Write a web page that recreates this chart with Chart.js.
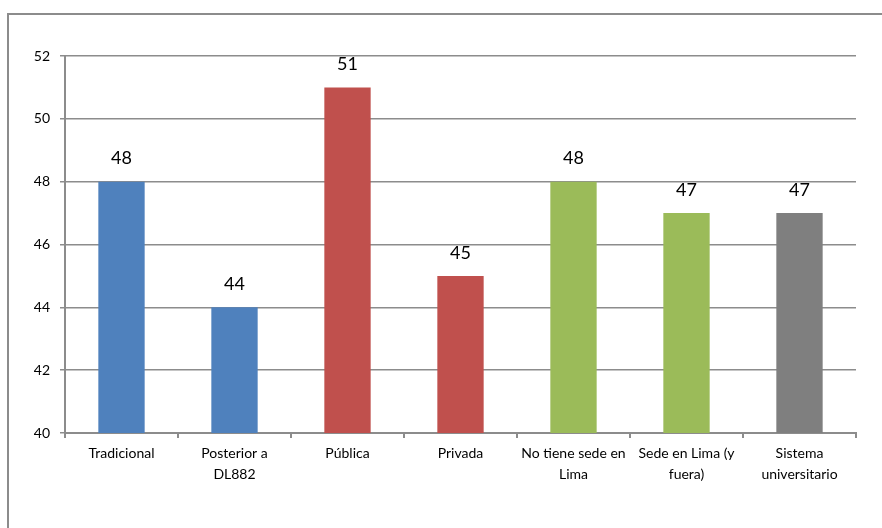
<!DOCTYPE html>
<html>
<head>
<meta charset="utf-8">
<script src="https://cdn.jsdelivr.net/npm/chart.js@4/dist/chart.umd.min.js"></script>
<style>
  html, body { margin: 0; padding: 0; background: #fff; }
  #wrap { width: 882px; height: 528px; position: relative; }
</style>
</head>
<body>
<div id="wrap"><canvas id="chart-area" width="882" height="528"></canvas></div>
<script>
var categories = [
    'Tradicional',
    ['Posterior a', 'DL882'],
    'Pública',
    'Privada',
    ['No tiene sede en', 'Lima'],
    ['Sede en Lima (y', 'fuera)'],
    ['Sistema', 'universitario']
];
var values = [48, 44, 51, 45, 48, 47, 47];
var barColors = ['#4F81BD', '#4F81BD', '#C0504D', '#C0504D', '#9BBB59', '#9BBB59', '#7F7F7F'];
var yMin = 40, yMax = 52, yStep = 2;

var lineGray = '#8C8C8C';
var fontFamily = 'Lato, "Open Sans", sans-serif';

// outer frame of the chart object
var framePlugin = {
    id: 'frame',
    beforeDraw: function(chart) {
        var ctx = chart.ctx;
        ctx.save();
        ctx.strokeStyle = '#8C8C8C';
        ctx.lineWidth = 2;
        ctx.strokeRect(8, 14, chart.width + 20, chart.height + 20);
        ctx.restore();
    }
};

// value labels above each bar
var valueLabels = {
    id: 'valueLabels',
    afterDatasetsDraw: function(chart) {
        var ctx = chart.ctx;
        var meta = chart.getDatasetMeta(0);
        ctx.save();
        ctx.fillStyle = '#000';
        ctx.font = '18px ' + fontFamily;
        ctx.textAlign = 'center';
        ctx.textBaseline = 'bottom';
        meta.data.forEach(function(bar, i) {
            ctx.fillText(String(values[i]), bar.x, bar.y - 14);
        });
        ctx.restore();
    }
};

var config = {
    type: 'bar',
    data: {
        labels: categories,
        datasets: [{
            data: values,
            backgroundColor: barColors,
            borderWidth: 0,
            barPercentage: 0.41,
            categoryPercentage: 1
        }]
    },
    options: {
        responsive: false,
        animation: false,
        layout: {
            padding: { top: 56, right: 26, left: 0, bottom: 0 }
        },
        plugins: {
            legend: { display: false },
            tooltip: { enabled: false }
        },
        scales: {
            x: {
                grid: {
                    offset: true,
                    drawOnChartArea: false,
                    drawTicks: true,
                    tickLength: 5,
                    color: lineGray,
                    lineWidth: 2
                },
                border: { color: lineGray, width: 2 },
                ticks: {
                    color: '#000',
                    font: { family: fontFamily, size: 14, lineHeight: 1.5 },
                    padding: 5,
                    maxRotation: 0,
                    autoSkip: false
                },
                afterFit: function(scale) { scale.height = 95; }
            },
            y: {
                min: yMin,
                max: yMax,
                grid: {
                    color: lineGray,
                    lineWidth: 1.5,
                    tickLength: 5
                },
                border: { color: lineGray, width: 2 },
                ticks: {
                    stepSize: yStep,
                    color: '#000',
                    font: { family: fontFamily, size: 14 },
                    padding: 10
                },
                afterFit: function(scale) { scale.width = 65; }
            }
        }
    },
    plugins: [framePlugin, valueLabels]
};

window.onload = function() {
    var ctx = document.getElementById('chart-area').getContext('2d');
    window.barChart = new Chart(ctx, config);
};
</script>
</body>
</html>
